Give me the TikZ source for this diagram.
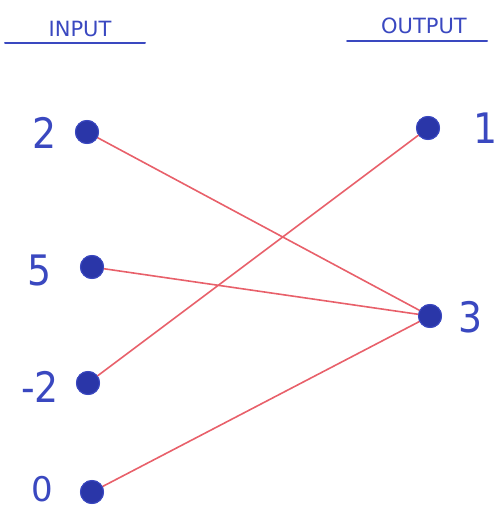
\documentclass[tikz,border=0pt]{standalone}
\usepackage{fontspec}
\setmainfont{DejaVu Sans}
\definecolor{ink}{HTML}{3A48C0}
\definecolor{dotink}{HTML}{2A36A8}
\definecolor{wire}{HTML}{E8606A}
\begin{document}
\begin{tikzpicture}[x=1pt,y=-1pt,
  dot/.style={circle,fill=dotink,draw=ink,line width=1pt,minimum size=23pt,inner sep=0pt},
  num/.style={text=ink,font=\fontsize{42}{42}\selectfont\addfontfeatures{FakeStretch=0.9}},
  head/.style={text=ink,font=\fontsize{21}{21}\selectfont},
  rule/.style={draw=ink,line width=2pt,line cap=round},
  wire/.style={draw=wire,line width=1.6pt}]
\useasboundingbox (0,0) rectangle (498,508);
\node[head] (hin) at (80,29) {INPUT};
\node[head] (hout) at (424,26) {OUTPUT};
\coordinate (ul1) at (5,43); \coordinate (ul2) at (145,43);
\coordinate (ur1) at (347,41); \coordinate (ur2) at (487,41);
\draw[rule] (ul1) -- (ul2);
\draw[rule] (ur1) -- (ur2);
\node[dot] (i2) at (87,132) {};
\node[dot] (i5) at (92,267) {};
\node[dot] (im2) at (88,383) {};
\node[dot] (i0) at (92,492) {};
\node[dot] (o1) at (428,128) {};
\node[dot] (o3) at (430,316) {};
\draw[wire] (i2.center) -- (o3.center);
\draw[wire] (i5.center) -- (o3.center);
\draw[wire] (im2.center) -- (o1.center);
\draw[wire] (i0.center) -- (o3.center);
\node[dot] at (i2) {}; \node[dot] at (i5) {}; \node[dot] at (im2) {};
\node[dot] at (i0) {}; \node[dot] at (o1) {}; \node[dot] at (o3) {};
\node[num] (l2) at (45,133) {2};
\node[num] (l5) at (40,270) {5};
\node[num] (lm2) at (40,387) {-2};
\node[num,font=\fontsize{34}{34}\selectfont] (l0) at (42,489) {0};
\node[num] (l1) at (486,128) {1};
\node[num] (l3) at (471,317) {3};
\end{tikzpicture}
\end{document}
